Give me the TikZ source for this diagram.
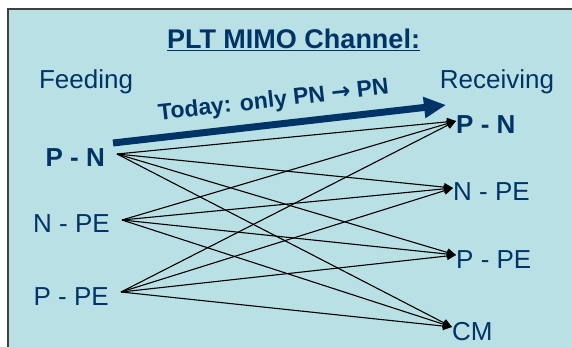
\documentclass[tikz,border=0pt]{standalone}
\usepackage{fontspec}
\setmainfont{Liberation Sans}
\newfontfamily\arrowfont{DejaVu Sans}
\usetikzlibrary{arrows.meta}

\definecolor{panel}{RGB}{185,224,228}
\definecolor{navy}{RGB}{0,51,102}
\definecolor{frame}{RGB}{64,64,64}

\tikzstyle{label text}=[text=navy,inner sep=0pt,
    font=\fontsize{26}{30}\selectfont]
\tikzstyle{port}=[label text,text height=26pt,text depth=0pt,inner ysep=0pt]
\tikzstyle{feed port}=[port,anchor=east,inner xsep=12pt]
\tikzstyle{recv port}=[port,anchor=west,inner xsep=0pt]
\tikzstyle{link}=[line width=1.1pt,-{Triangle[length=9pt,width=8pt]}]
\tikzstyle{today}=[navy,line width=7pt,-{Triangle[length=22pt,width=20pt]}]
\newcommand{\feed}[4][]{
    \node[feed port,#1] (#3) at (#2) {#4};
}
\newcommand{\recv}[4][]{
    \node[recv port,#1] (#3) at (#2) {#4};
}
\newcommand{\link}[3][]{\draw[link,#1] (#2.east) -- (#3.west);}

\begin{document}
\begin{tikzpicture}[x=1pt,y=-1pt]
    \useasboundingbox (0,0) rectangle (572,347);
    \fill[white] (0,0) rectangle (572,347);
    \clip (0,0) rectangle (572,347);
    \draw[fill=panel,draw=frame,line width=2pt] (8.3,9.2) rectangle (600,380);

    \node[label text,anchor=base,font=\fontsize{27}{31}\selectfont\bfseries]
        (title) at (293.5,49) {\underline{PLT MIMO Channel:}};
    \node[label text,anchor=base] (feeding) at (86,88.5) {Feeding};
    \node[label text,anchor=base] (receiving) at (497,88.5) {Receiving};

    \feed[font=\fontsize{26}{30}\selectfont\bfseries]{117,154}{lPN}{P - N}
    \feed{122,220}{lNPE}{N - PE}
    \feed{121,292}{lPPE}{P - PE}
    \recv[font=\fontsize{26}{30}\selectfont\bfseries]{456,121}{rPN}{P - N}
    \recv{453,188}{rNPE}{N - PE}
    \recv{456,255}{rPPE}{P - PE}
    \recv{452,327}{rCM}{CM}

    \coordinate (today start) at (113,143);
    \coordinate (today end) at (446,105);
    \draw[today] (today start) -- (today end)
        node[pos=0.49,above=9pt,sloped,inner sep=0pt,text=navy,
             font=\fontsize{23}{27}\selectfont\bfseries] (today text)
        {Today: only PN {\arrowfont\bfseries →} PN};

    \link{lPN}{rPN}
    \link{lPN}{rNPE}
    \link{lPN}{rPPE}
    \link{lPN}{rCM}
    \link{lNPE}{rPN}
    \link{lNPE}{rNPE}
    \link{lNPE}{rPPE}
    \link{lNPE}{rCM}
    \link{lPPE}{rPN}
    \link{lPPE}{rNPE}
    \link{lPPE}{rPPE}
    \link{lPPE}{rCM}
\end{tikzpicture}
\end{document}
